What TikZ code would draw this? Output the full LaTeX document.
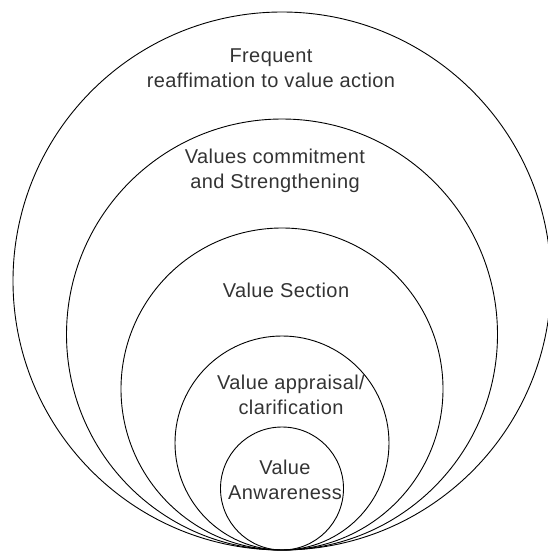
\documentclass[tikz,border=0pt]{standalone}
\usepackage{fontspec}
\setmainfont[LetterSpace=2]{Liberation Sans}
\usetikzlibrary{calc}
\tikzset{ring/.style={draw,line width=0.9pt},
	label/.style={align=center,font=\fontsize{20}{25}\selectfont,text=black!80,inner sep=0pt}}

\begin{document}
\begin{tikzpicture}[x=1pt,y=-1pt]
	\useasboundingbox (0,0) rectangle (547,552);
	\coordinate (base) at (282,550);
	\foreach \r in {269, 215.5, 161, 107, 61.5} \draw [ring] ($(base)+(0,-\r)$) circle [radius=\r pt];
	
	\node [label] (frequent) at (271,68) {Frequent\\reaffimation to value action};
	\node [label] (commit) at (275,171) {Values commitment\\and Strengthening};
	\node [label] (section) at (286,290) {Value Section};
	\node [label] (appraisal) at (291,395) {Value appraisal/\\clarification};
	\node [label] (awareness) at (285,480) {Value\\Anwareness};
\end{tikzpicture}
\end{document}
